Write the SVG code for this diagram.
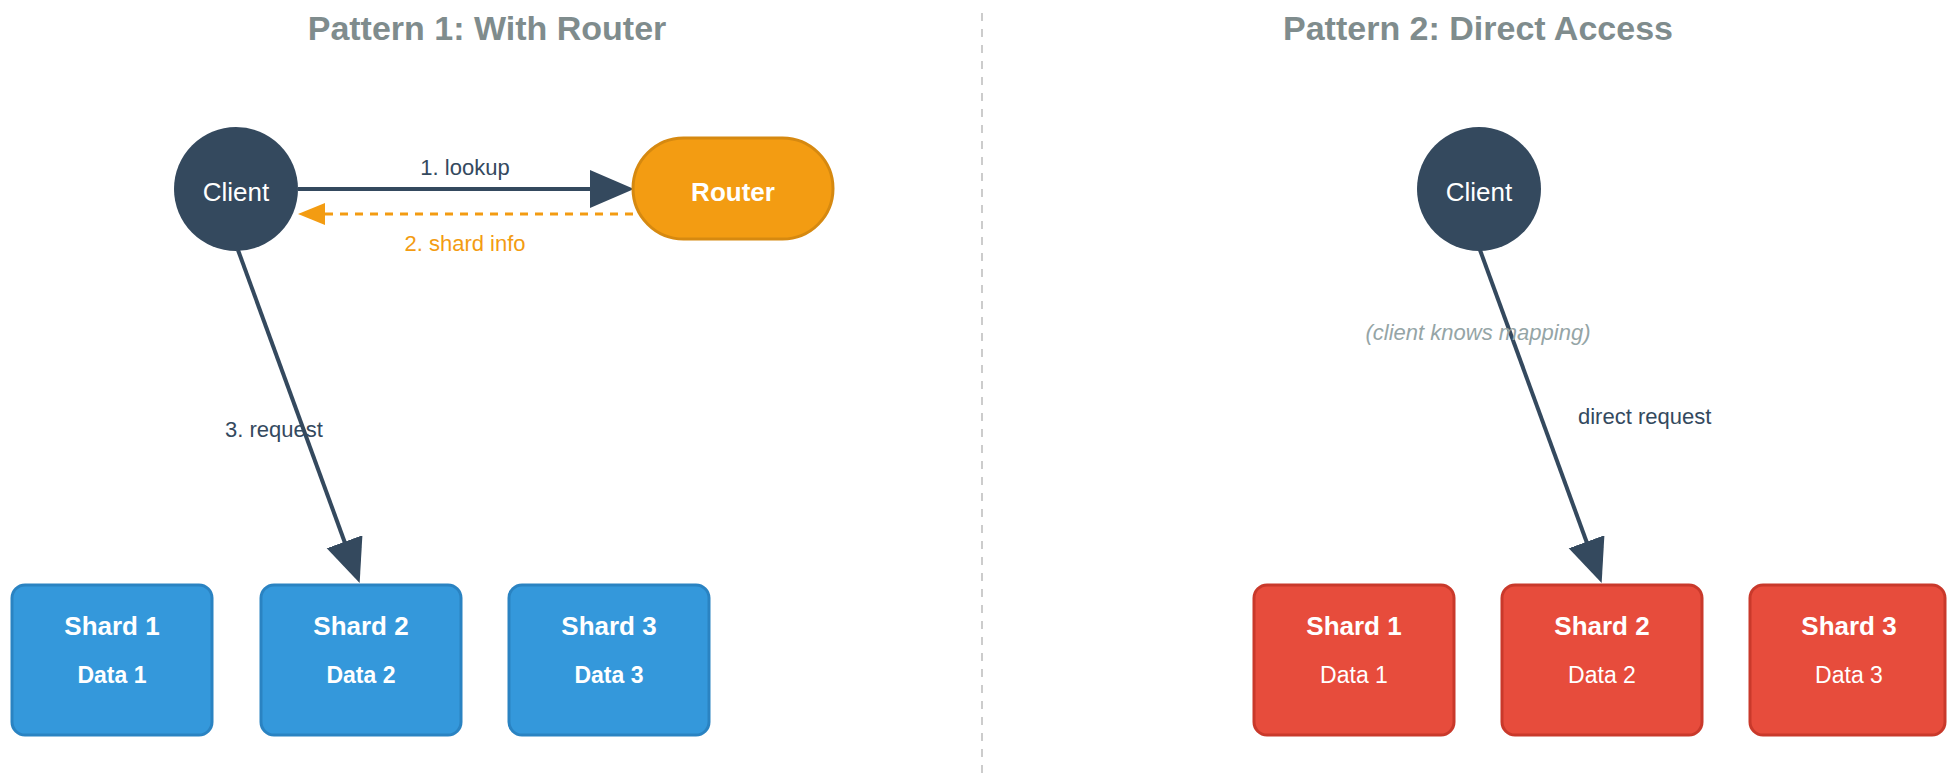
<svg xmlns="http://www.w3.org/2000/svg" width="1947" height="779" viewBox="0 0 1947 779">
  <style>
    .title { font-family: "Liberation Sans", Arial, sans-serif; font-size: 34px; font-weight: bold; fill: #7f8c8d; text-anchor: middle; }
    .node-text { font-family: "Liberation Sans", Arial, sans-serif; font-size: 26px; fill: #ffffff; text-anchor: middle; }
    .bold { font-weight: bold; }
    .sub { font-family: "Liberation Sans", Arial, sans-serif; font-size: 23px; fill: #ffffff; text-anchor: middle; }
    .label { font-family: "Liberation Sans", Arial, sans-serif; font-size: 22px; fill: #34495e; }
    .note { font-family: "Liberation Sans", Arial, sans-serif; font-size: 22px; font-style: italic; fill: #95a5a6; text-anchor: middle; }
    .client { fill: #34495e; }
    .router { fill: #f39c12; stroke: #d68910; stroke-width: 3; }
    .shard-blue { fill: #3498db; stroke: #2a83c2; stroke-width: 3; }
    .shard-red { fill: #e74c3c; stroke: #c9392b; stroke-width: 3; }
    .conn { stroke: #34495e; stroke-width: 4; fill: none; }
    .conn-back { stroke: #f39c12; stroke-width: 3; stroke-dasharray: 8 7; fill: none; }
    .divider { stroke: #cccccc; stroke-width: 2; stroke-dasharray: 8 8; }
  </style>
  <defs>
    <marker id="head-dark" markerUnits="userSpaceOnUse" markerWidth="46" markerHeight="40" refX="1" refY="19" orient="auto">
      <path d="M0,0 L44,19 L0,38 Z" fill="#34495e"/>
    </marker>
    <marker id="head-orange" markerUnits="userSpaceOnUse" markerWidth="30" markerHeight="24" refX="1" refY="11" orient="auto">
      <path d="M0,0 L27,11 L0,22 Z" fill="#f39c12"/>
    </marker>
  </defs>

  <rect width="1947" height="779" fill="#ffffff"/>

  <!-- section titles and divider -->
  <text class="title" x="487" y="40">Pattern 1: With Router</text>
  <text class="title" x="1478" y="40">Pattern 2: Direct Access</text>
  <line class="divider" x1="982" y1="13" x2="982" y2="779"/>

  <!-- connectors -->
  <g id="connectors">
    <line class="conn" x1="298" y1="189" x2="591" y2="189" marker-end="url(#head-dark)"/>
    <line class="conn-back" x1="633" y1="214" x2="324" y2="214" marker-end="url(#head-orange)"/>
    <line class="conn" x1="238" y1="250" x2="344.9" y2="542.7" marker-end="url(#head-dark)"/>
    <line class="conn" x1="1480" y1="250" x2="1586.9" y2="542.7" marker-end="url(#head-dark)"/>
    <text class="label" x="465" y="175" text-anchor="middle">1. lookup</text>
    <text class="label" x="465" y="251" text-anchor="middle" style="fill:#f39c12">2. shard info</text>
    <text class="label" x="225" y="437">3. request</text>
    <text class="note" x="1478" y="340">(client knows mapping)</text>
    <text class="label" x="1578" y="424">direct request</text>
  </g>

  <!-- pattern 1: routed access -->
  <g id="client-1">
    <circle class="client" cx="236" cy="189" r="62"/>
    <text class="node-text" x="236" y="201">Client</text>
  </g>
  <g id="router">
    <rect class="router" x="633" y="138" width="200" height="101" rx="50.5"/>
    <text class="node-text bold" x="733" y="201">Router</text>
  </g>
  <g id="shard-1a">
    <rect class="shard-blue" x="12" y="585" width="200" height="150" rx="13"/>
    <text class="node-text bold" x="112" y="635">Shard 1</text>
    <text class="sub bold" x="112" y="683">Data 1</text>
  </g>
  <g id="shard-2a">
    <rect class="shard-blue" x="261" y="585" width="200" height="150" rx="13"/>
    <text class="node-text bold" x="361" y="635">Shard 2</text>
    <text class="sub bold" x="361" y="683">Data 2</text>
  </g>
  <g id="shard-3a">
    <rect class="shard-blue" x="509" y="585" width="200" height="150" rx="13"/>
    <text class="node-text bold" x="609" y="635">Shard 3</text>
    <text class="sub bold" x="609" y="683">Data 3</text>
  </g>

  <!-- pattern 2: direct access -->
  <g id="client-2">
    <circle class="client" cx="1479" cy="189" r="62"/>
    <text class="node-text" x="1479" y="201">Client</text>
  </g>
  <g id="shard-1b">
    <rect class="shard-red" x="1254" y="585" width="200" height="150" rx="13"/>
    <text class="node-text bold" x="1354" y="635">Shard 1</text>
    <text class="sub" x="1354" y="683">Data 1</text>
  </g>
  <g id="shard-2b">
    <rect class="shard-red" x="1502" y="585" width="200" height="150" rx="13"/>
    <text class="node-text bold" x="1602" y="635">Shard 2</text>
    <text class="sub" x="1602" y="683">Data 2</text>
  </g>
  <g id="shard-3b">
    <rect class="shard-red" x="1750" y="585" width="195" height="150" rx="13"/>
    <text class="node-text bold" x="1849" y="635">Shard 3</text>
    <text class="sub" x="1849" y="683">Data 3</text>
  </g>
</svg>
